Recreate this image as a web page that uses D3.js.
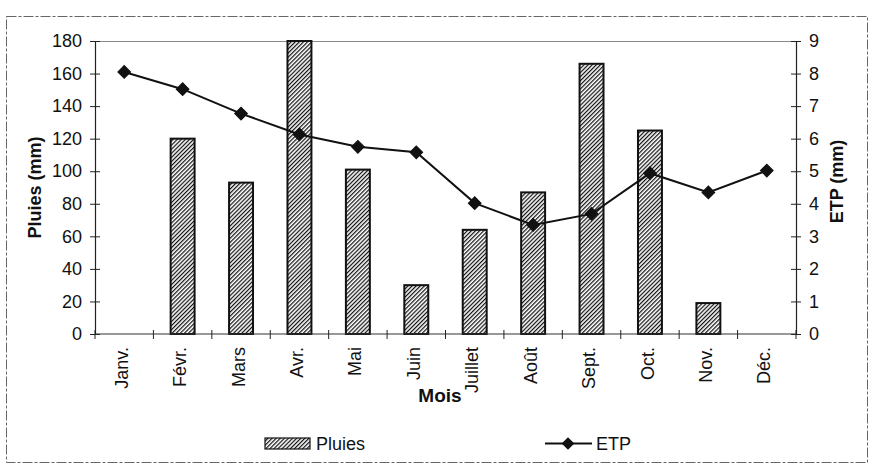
<!DOCTYPE html>
<html><head><meta charset="utf-8">
<script src="https://cdn.jsdelivr.net/npm/d3@7"></script>
<style>
body{margin:0;background:#fff;}
text{font-family:"Liberation Sans",Arial,sans-serif;fill:#111;}
</style></head>
<body>
<svg id="chart" width="878" height="467"></svg>
<script>
const months = ["Janv.","Févr.","Mars","Avr.","Mai","Juin","Juillet","Août","Sept.","Oct.","Nov.","Déc."];
const pluies = [0,120,93,180,101,30,64,87,166,125,19,0];
const etp = [8.05,7.52,6.77,6.13,5.75,5.58,4.02,3.35,3.69,4.94,4.35,5.02];
const leftTicks = [0,20,40,60,80,100,120,140,160,180];
const rightTicks = [0,1,2,3,4,5,6,7,8,9];

const svg = d3.select("#chart");
const L=95, R=796, T=41, B=334;

const x = d3.scaleBand().domain(months).range([L,R]).padding(0);
const yL = d3.scaleLinear().domain([0,180]).range([B,T]);
const yR = d3.scaleLinear().domain([0,9]).range([B,T]);

const defs = svg.append("defs");
const pat = defs.append("pattern").attr("id","hatch").attr("patternUnits","userSpaceOnUse")
  .attr("width",2.9).attr("height",2.9).attr("patternTransform","rotate(45)");
pat.append("rect").attr("width",2.9).attr("height",2.9).attr("fill","#fff");
pat.append("line").attr("x1",0.6).attr("y1",0).attr("x2",0.6).attr("y2",2.9).attr("stroke","#111").attr("stroke-width",1.25);

// outer frame
svg.append("rect").attr("x",6.5).attr("y",16.5).attr("width",861).attr("height",446)
  .attr("fill","none").attr("stroke","#666").attr("stroke-width",1).attr("stroke-dasharray","10,2,3,2");

// plot top border
svg.append("line").attr("x1",L).attr("x2",R).attr("y1",T+0.5).attr("y2",T+0.5).attr("stroke","#888").attr("stroke-width",1.2);

// bars
const bw = x.bandwidth()*0.41;
svg.append("g").selectAll("rect").data(months.map((m,i)=>({m,v:pluies[i]})).filter(d=>d.v>0))
  .join("rect")
  .attr("x",d=>x(d.m)+x.bandwidth()/2-bw/2)
  .attr("y",d=>yL(d.v))
  .attr("width",bw)
  .attr("height",d=>B-yL(d.v))
  .attr("fill","url(#hatch)").attr("stroke","#111").attr("stroke-width",2);

// left axis
const gL = svg.append("g").attr("transform",`translate(${L},0)`)
  .call(d3.axisLeft(yL).tickValues(leftTicks).tickSize(5).tickPadding(8));
gL.select(".domain").attr("stroke","#222").attr("stroke-width",1.2);
gL.selectAll(".tick line").attr("x1",5).attr("x2",-5).attr("stroke","#222");
gL.selectAll("text").attr("font-size",18).attr("font-family","Liberation Sans, Arial, sans-serif").attr("fill","#111");

// right axis
const gR = svg.append("g").attr("transform",`translate(${R},0)`)
  .call(d3.axisRight(yR).tickValues(rightTicks).tickSize(5).tickPadding(8));
gR.select(".domain").attr("stroke","#222").attr("stroke-width",1.2);
gR.selectAll(".tick line").attr("x1",-5).attr("x2",5).attr("stroke","#222");
gR.selectAll("text").attr("font-size",18).attr("font-family","Liberation Sans, Arial, sans-serif").attr("fill","#111");

// bottom axis
svg.append("line").attr("x1",L).attr("x2",R).attr("y1",B).attr("y2",B).attr("stroke","#333").attr("stroke-width",1.2);
const bounds = months.map(m=>x(m)).concat([x(months[months.length-1])+x.bandwidth()]);
svg.append("g").selectAll("line").data(bounds).join("line")
  .attr("x1",d=>d).attr("x2",d=>d).attr("y1",B-4).attr("y2",B+5).attr("stroke","#222").attr("stroke-width",1);
svg.append("g").selectAll("text").data(months).join("text")
  .attr("transform",d=>`translate(${x(d)+x.bandwidth()/2},347) rotate(-90)`)
  .attr("text-anchor","end").attr("dy","0.2em").attr("font-size",18).text(d=>d);

// ETP line
const line = d3.line().x((d,i)=>x(months[i])+x.bandwidth()/2).y(d=>yR(d));
svg.append("path").datum(etp).attr("d",line).attr("fill","none").attr("stroke","#111").attr("stroke-width",2);
svg.append("g").selectAll("rect").data(etp).join("rect")
  .attr("x",-4.5).attr("y",-4.5).attr("width",9).attr("height",9)
  .attr("transform",(d,i)=>`translate(${x(months[i])+x.bandwidth()/2},${yR(d)}) rotate(45)`)
  .attr("fill","#111").attr("stroke","#111").attr("stroke-width",1);

// axis titles
svg.append("text").attr("transform",`translate(41,${(T+B)/2}) rotate(-90)`).attr("text-anchor","middle")
  .attr("font-size",18).attr("font-weight","bold").text("Pluies (mm)");
svg.append("text").attr("transform",`translate(843,${(T+B)/2-6}) rotate(-90)`).attr("text-anchor","middle")
  .attr("font-size",18).attr("font-weight","bold").text("ETP (mm)");
svg.append("text").attr("x",440).attr("y",402).attr("text-anchor","middle")
  .attr("font-size",19).attr("font-weight","bold").text("Mois");

// legend
svg.append("rect").attr("x",265).attr("y",438).attr("width",45).attr("height",11)
  .attr("fill","url(#hatch)").attr("stroke","#111").attr("stroke-width",1.2);
svg.append("text").attr("x",316).attr("y",450).attr("font-size",18).text("Pluies");
svg.append("line").attr("x1",545).attr("x2",592).attr("y1",443.5).attr("y2",443.5).attr("stroke","#111").attr("stroke-width",2);
svg.append("rect").attr("x",-4.5).attr("y",-4.5).attr("width",9).attr("height",9)
  .attr("transform","translate(568,443.5) rotate(45)").attr("fill","#111");
svg.append("text").attr("x",596).attr("y",450).attr("font-size",18).text("ETP");
</script>
</body></html>
